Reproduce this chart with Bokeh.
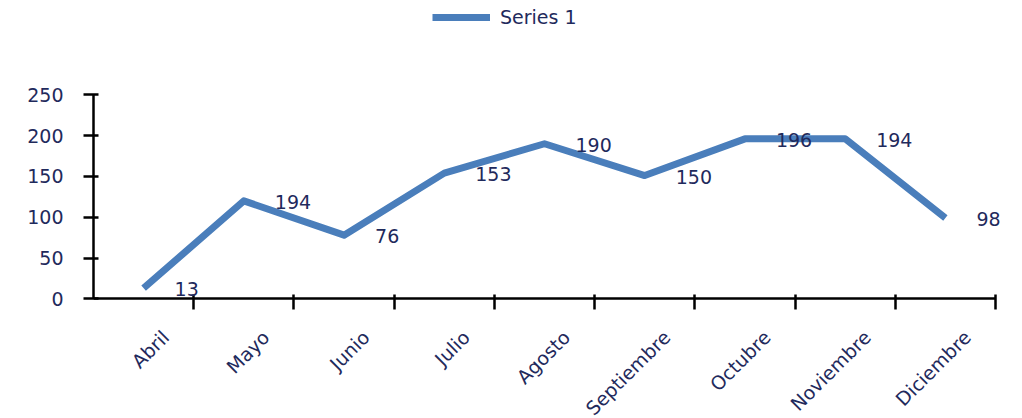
import math
from bokeh.plotting import figure
from bokeh.models import (FixedTicker, CustomJSTickFormatter, Legend, LegendItem,
                          ColumnDataSource, Range1d, LabelSet)
from bokeh.core.properties import value
from bokeh.embed import file_html
from bokeh.resources import INLINE

# ---- data ----
months = ["Abril", "Mayo", "Junio", "Julio", "Agosto", "Septiembre",
          "Octubre", "Noviembre", "Diciembre"]
series_1 = [13, 120, 78, 154, 190, 151, 196, 196, 99]
data_labels = ["13", "194", "76", "153", "190", "150", "196", "194", "98"]
y_ticks = [0, 50, 100, 150, 200, 250]
Y_MAX = 250

FONT = "DejaVu Sans"
NAVY = "#1f2a5c"
BLUE = "#4a7ebb"

n = len(months)
x_pos = [i + 0.5 for i in range(n)]
src = ColumnDataSource(dict(x=x_pos, y=series_1, lab=data_labels))

# frame covers the whole canvas below/above the axes; axes are bounded
W, H = 1022, 418
LEFT = 93.3          # y-axis position (px)
X_SCALE = 100.19     # px per category
Y0_PX, Y250_PX = 298.3, 94.3
ys = (Y0_PX - Y250_PX) / Y_MAX
x_end = (W - LEFT) / X_SCALE
y_start = -(H - Y0_PX) / ys
y_end = Y_MAX + Y250_PX / ys

p = figure(width=W, height=H, output_backend="svg", toolbar_location=None,
           x_range=Range1d(0, x_end), y_range=Range1d(y_start, y_end),
           min_border_left=93, min_border_right=0, min_border_top=0,
           min_border_bottom=0)
p.outline_line_color = None
p.xgrid.visible = False
p.ygrid.visible = False
p.background_fill_color = "white"
p.border_fill_color = "white"

r = p.line('x', 'y', source=src, line_color=BLUE, line_width=7, line_join="round")

labels = LabelSet(x='x', y='y', text='lab', source=src, x_offset=31, y_offset=-1,
                  text_align="left", text_baseline="middle", text_font=value(FONT),
                  text_font_size="19px", text_color=NAVY)
p.add_layout(labels)

# x axis pinned at y=0: rotated month labels, boundary ticks as minor ticks
xa = p.xaxis[0]
xa.fixed_location = 0
xa.bounds = (0, n)
xa.ticker = FixedTicker(ticks=[i + 0.72 for i in range(n)],
                        minor_ticks=list(range(1, n + 1)))
xa.formatter = CustomJSTickFormatter(args=dict(labels=months),
                                     code="return labels[Math.floor(tick)];")
xa.major_label_orientation = math.pi / 4
xa.major_tick_out = 0
xa.major_tick_in = 0
xa.major_tick_line_color = None
xa.minor_tick_out = 11
xa.minor_tick_in = 4
xa.minor_tick_line_color = "black"
xa.minor_tick_line_width = 2.5
xa.axis_line_color = "black"
xa.axis_line_width = 2.5
xa.major_label_standoff = 24
xa.major_label_text_font = FONT
xa.major_label_text_font_size = "19px"
xa.major_label_text_color = NAVY

ya = p.yaxis[0]
ya.bounds = (0, Y_MAX)
ya.ticker = FixedTicker(ticks=y_ticks)
ya.major_tick_in = 5
ya.major_tick_out = 10
ya.major_tick_line_color = "black"
ya.major_tick_line_width = 2.5
ya.minor_tick_line_color = None
ya.axis_line_color = "black"
ya.axis_line_width = 2.5
ya.major_label_standoff = 20
ya.major_label_text_font = FONT
ya.major_label_text_font_size = "19px"
ya.major_label_text_color = NAVY

legend = Legend(items=[LegendItem(label="Series 1", renderers=[r])],
                location=(339, 390), orientation="horizontal",
                glyph_width=58, glyph_height=20, label_standoff=10,
                padding=0, margin=0, border_line_color=None,
                background_fill_alpha=0, label_text_font=FONT,
                label_text_font_size="19px", label_text_color=NAVY)
p.add_layout(legend)

open("out.html", "w").write(file_html(p, INLINE))
